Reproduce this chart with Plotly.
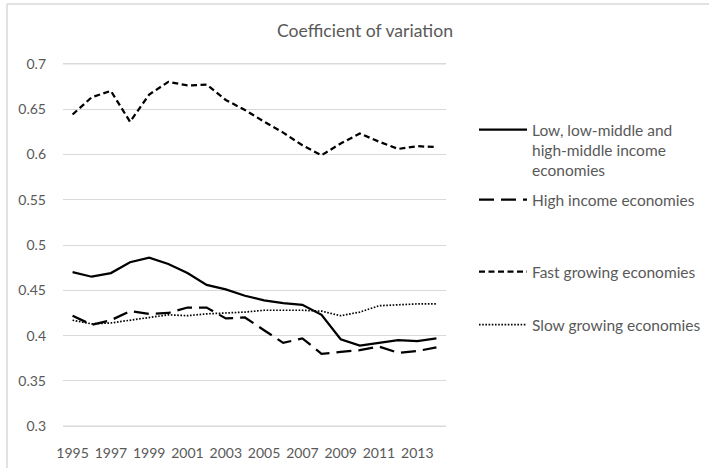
import plotly.graph_objects as go

# Coefficient of variation by country group, 1995-2014
years = list(range(1995, 2015))

low_middle_income = [0.470, 0.465, 0.469, 0.481, 0.486, 0.479, 0.469, 0.456, 0.451, 0.444,
                     0.439, 0.436, 0.434, 0.423, 0.396, 0.389, 0.392, 0.395, 0.394, 0.397]
high_income = [0.422, 0.412, 0.417, 0.427, 0.424, 0.425, 0.431, 0.431, 0.419, 0.420,
               0.406, 0.392, 0.397, 0.380, 0.382, 0.384, 0.388, 0.381, 0.383, 0.387]
fast_growing = [0.644, 0.663, 0.670, 0.636, 0.666, 0.680, 0.676, 0.677, 0.660, 0.649,
                0.636, 0.624, 0.610, 0.599, 0.612, 0.623, 0.614, 0.606, 0.609, 0.608]
slow_growing = [0.417, 0.413, 0.414, 0.417, 0.420, 0.423, 0.422, 0.424, 0.425, 0.426,
                0.428, 0.428, 0.428, 0.427, 0.422, 0.426, 0.433, 0.434, 0.435, 0.435]

series_names = [
    "Low, low-middle and<br>high-middle income<br>economies",
    "High income economies",
    "Fast growing economies",
    "Slow growing economies",
]

y_ticks = [0.3, 0.35, 0.4, 0.45, 0.5, 0.55, 0.6, 0.65, 0.7]
y_tick_text = ["0.3", "0.35", "0.4", "0.45", "0.5", "0.55", "0.6", "0.65", "0.7"]
x_ticks = list(range(1995, 2015, 2))

W, H = 709, 468
L, R, T, B = 63, 263, 61, 39
plot_w = W - L - R
plot_h = H - T - B


def px_x(px):
    return (px - L) / plot_w


def px_y(py):
    return (H - B - py) / plot_h


FONT = "Lato"
GREY = "#595959"
GRID = "#d9d9d9"

fig = go.Figure()

styles = [
    dict(dash="solid", width=2.25),
    dict(dash="15px,7px", width=2.25),
    dict(dash="6px,3.5px", width=2.25),
    dict(dash="1.6px,1.6px", width=1.7),
]
values = [low_middle_income, high_income, fast_growing, slow_growing]
legends = ["legend", "legend2", "legend3", "legend4"]

for name, vals, st, lg in zip(series_names, values, styles, legends):
    fig.add_trace(go.Scatter(
        x=years, y=vals, mode="lines", name=name, legend=lg,
        line=dict(color="black", width=st["width"], dash=st["dash"]),
        hoverinfo="skip",
    ))

legend_centres = [150, 200, 272, 325]
legend_common = dict(
    x=px_x(474), xanchor="left", yanchor="middle",
    bgcolor="rgba(0,0,0,0)", borderwidth=0,
    font=dict(family=FONT, size=15.5, color=GREY),
    valign="top", itemwidth=48,
)

layout_legends = {}
for lg, cy in zip(legends, legend_centres):
    layout_legends[lg] = dict(legend_common, y=px_y(cy))

# outermost gridlines at the ends of the value axis
edge_grid = [
    dict(type="line", xref="paper", yref="y", x0=0, x1=1, y0=v, y1=v,
         layer="above", line=dict(color=GRID, width=1.5))
    for v in (y_ticks[0], y_ticks[-1])
]

fig.update_layout(
    width=W, height=H,
    margin=dict(l=L, r=R, t=T, b=B, pad=0, autoexpand=False),
    paper_bgcolor="white", plot_bgcolor="white",
    showlegend=True,
    font=dict(family=FONT, color=GREY),
    title=dict(
        text="Coefficient of variation",
        x=365 / W, xanchor="center", xref="container",
        y=1 - 31 / H, yanchor="middle", yref="container",
        font=dict(family=FONT, size=17.6, color=GREY),
    ),
    xaxis=dict(
        range=[1994.5, 2014.5], tickmode="array", tickvals=x_ticks,
        ticktext=[str(v) for v in x_ticks],
        showgrid=False, zeroline=False, showline=False, automargin=False,
        ticks="", ticklabelstandoff=14,
        tickfont=dict(family=FONT, size=14, color=GREY),
        fixedrange=True,
    ),
    yaxis=dict(
        range=[0.297, 0.703], tickmode="array", tickvals=y_ticks, ticktext=y_tick_text,
        showgrid=True, gridcolor=GRID, gridwidth=1,
        zeroline=False, showline=False, automargin=False,
        ticks="", ticklabelstandoff=16,
        tickfont=dict(family=FONT, size=14, color=GREY),
        fixedrange=True,
    ),
    shapes=edge_grid + [
        # chart-area frame (top and left edges)
        dict(type="line", xref="paper", yref="paper",
             x0=px_x(7), x1=px_x(W + 2), y0=px_y(4), y1=px_y(4),
             line=dict(color=GRID, width=1.5)),
        dict(type="line", xref="paper", yref="paper",
             x0=px_x(7), x1=px_x(7), y0=px_y(4), y1=px_y(H + 2),
             line=dict(color=GRID, width=1.5)),
    ],
    **layout_legends,
)

fig.write_html("out.html")
